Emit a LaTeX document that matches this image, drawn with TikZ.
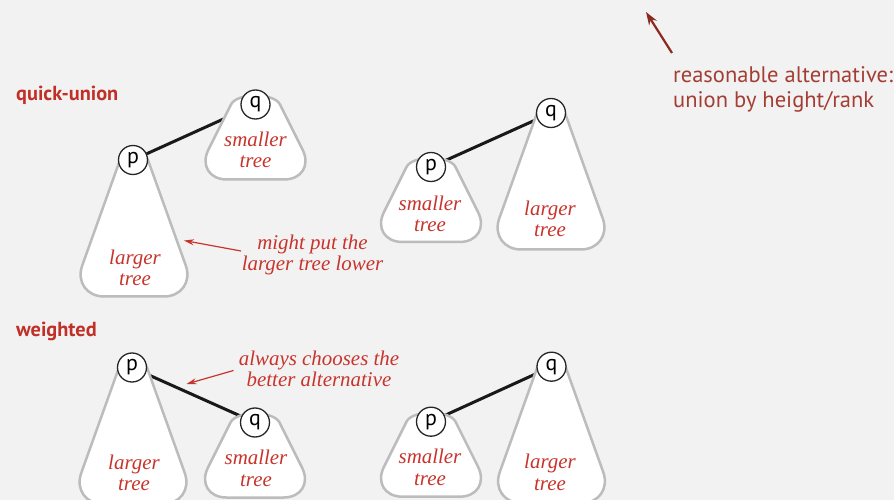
\documentclass[tikz,border=0pt]{standalone}
\usepackage{fontspec}
\setmainfont{Liberation Serif}
\setsansfont{PT Sans}
\usetikzlibrary{arrows.meta,calc}
\pgfdeclarelayer{bgl}\pgfdeclarelayer{edgel}\pgfdeclarelayer{treel}
\pgfsetlayers{bgl,edgel,treel,main}
\definecolor{bgc}{RGB}{242,242,242}
\definecolor{lab}{RGB}{200,52,44}
\definecolor{head}{RGB}{192,48,40}
\definecolor{note}{RGB}{163,62,52}
\definecolor{darrow}{RGB}{140,42,30}
\definecolor{treegray}{RGB}{188,188,188}
\tikzset{
 root/.style={circle, draw=black!85, line width=1.3bp, fill=white, minimum size=29bp, inner sep=0pt, font=\sffamily\fontsize{22}{22}\selectfont},
 link/.style={line width=3bp, black!90},
 treeline/.style={draw=treegray, line width=2.5bp, fill=white},
 lbl/.style={text=lab, font=\itshape\fontsize{21}{21.5}\selectfont, align=center, inner sep=0pt, anchor=base},
 heading/.style={text=head, font=\sffamily\bfseries\fontsize{20.4}{20.4}\selectfont, inner sep=0pt, anchor=base west},
 notetext/.style={text=note, font=\sffamily\fontsize{22.6}{26}\selectfont, align=left, inner sep=0pt, anchor=base west},
 pointer/.style={lab, line width=1.2bp, -{Stealth[length=10bp,width=6bp]}},
 bigpointer/.style={darrow, line width=2.2bp, -{Stealth[length=13bp,width=9bp]}}
}
% #1 c, #2 yc, #3 half-width at yc, #4 slope, #5 height, #6 rounding
\newcommand\treeshape[6]{%
 \pgfmathsetmacro\tW{#3+#4*#5}%
 \pgfmathsetmacro\tB{#2+#5}%
 \pgfmathsetmacro\tL{sqrt(1+#4*#4)}%
 \pgfmathsetmacro\tdx{#6*#4/\tL}%
 \pgfmathsetmacro\tdy{#6/\tL}%
 \pgfmathsetmacro\tk{0.53}%
 \begin{pgfonlayer}{treel}
 \filldraw[treeline]
   ({#1+#3},#2) .. controls ({#1+#3-#4*12},{#2-12}) and ({#1-#3+#4*12},{#2-12}) .. ({#1-#3},#2)
   -- ({#1-\tW+\tdx},{\tB-\tdy})
   .. controls ({#1-\tW+\tdx*(1-\tk)},{\tB-\tdy*(1-\tk)}) and ({#1-\tW+#6*(1-\tk)},\tB) .. ({#1-\tW+#6},\tB)
   -- ({#1+\tW-#6},\tB)
   .. controls ({#1+\tW-#6*(1-\tk)},\tB) and ({#1+\tW-\tdx*(1-\tk)},{\tB-\tdy*(1-\tk)}) .. ({#1+\tW-\tdx},{\tB-\tdy})
   -- cycle;
 \end{pgfonlayer}}
\newcommand\bigtree[2]{\treeshape{#1}{#2}{14}{0.358}{136.5}{33}}
\newcommand\smalltree[2]{\treeshape{#1}{#2}{24.5}{0.5}{75}{33.5}}
\begin{document}
\begin{tikzpicture}[x=1bp,y=-1bp]
\begin{pgfonlayer}{bgl}
\fill[bgc] (0,0) rectangle (894,500);
\end{pgfonlayer}
\useasboundingbox (0,0) rectangle (894,500);

% headings
\node[heading] (hqu) at (16,101) {quick-union};
\node[heading] (hw) at (16,337) {weighted};

% top note
\node[notetext] (note) at (673,108) {reasonable alternative:\\union by height/rank};
\coordinate (notetail) at (672,53);
\coordinate (notetip) at (646,12);
\draw[bigpointer] (notetail) -- (notetip);

% quick-union, left
\node[root] (p1) at (133,160) {p};
\node[root] (q1) at (255.5,104.5) {q};
\bigtree{134}{160}
\smalltree{255.5}{104.5}
\begin{pgfonlayer}{edgel}\draw[link] (p1) -- (q1);\end{pgfonlayer}
\node[lbl] (l1) at (135,285.5) {larger\\tree};
\node[lbl] (s1) at (255.5,168) {smaller\\tree};
\node[lbl] (a1) at (312.5,270.5) {might put the\\larger tree lower};
\coordinate (a1tail) at (241,251);
\coordinate (a1tip) at (184,240.5);
\draw[pointer] (a1tail) -- (a1tip);

% quick-union, right
\node[root] (p2) at (431,167) {p};
\node[root] (q2) at (551,113) {q};
\smalltree{431}{167}
\bigtree{551}{113}
\begin{pgfonlayer}{edgel}\draw[link] (p2) -- (q2);\end{pgfonlayer}
\node[lbl] (s2) at (430,231.5) {smaller\\tree};
\node[lbl] (l2) at (550,237) {larger\\tree};

% weighted, left
\node[root] (p3) at (132,367.5) {p};
\node[root] (q3) at (255,422.5) {q};
\bigtree{133}{367.5}
\smalltree{255}{422.5}
\begin{pgfonlayer}{edgel}\draw[link] (p3) -- (q3);\end{pgfonlayer}
\node[lbl] (l3) at (134,490.5) {larger\\tree};
\node[lbl] (s3) at (256,486) {smaller\\tree};
\node[lbl] (a3) at (319,386.7) {always chooses the\\better alternative};
\coordinate (a3tail) at (233.5,370.5);
\coordinate (a3tip) at (186.5,384);
\draw[pointer] (a3tail) -- (a3tip);

% weighted, right
\node[root] (p4) at (431,421.7) {p};
\node[root] (q4) at (551.5,366.7) {q};
\smalltree{431}{421.7}
\bigtree{551.5}{366.7}
\begin{pgfonlayer}{edgel}\draw[link] (p4) -- (q4);\end{pgfonlayer}
\node[lbl] (s4) at (430,485) {smaller\\tree};
\node[lbl] (l4) at (550,490) {larger\\tree};
\end{tikzpicture}
\end{document}
